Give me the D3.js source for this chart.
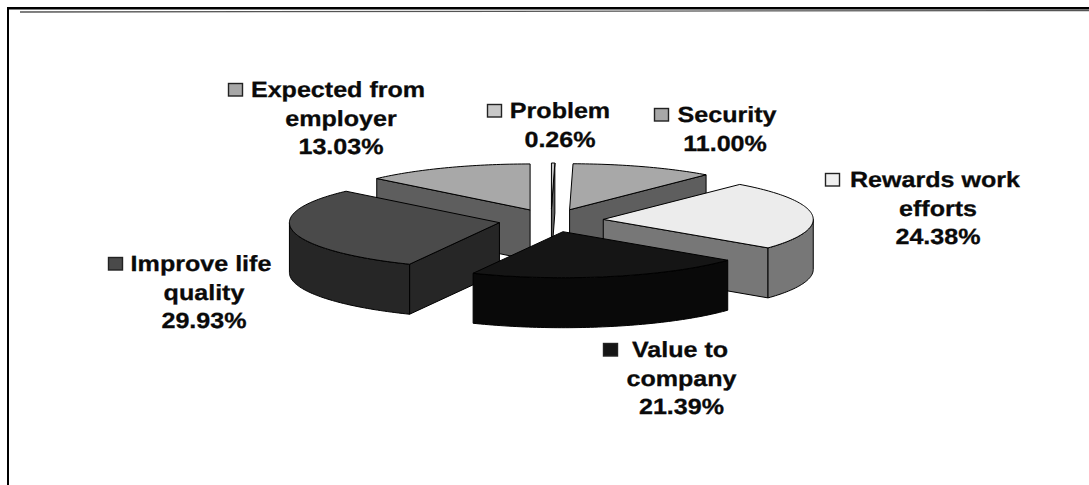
<!DOCTYPE html>
<html>
<head>
<meta charset="utf-8">
<script src="https://cdn.jsdelivr.net/npm/d3@7/dist/d3.min.js"></script>
<style>
html,body{margin:0;padding:0;background:#fff;overflow:hidden}
text{font-family:"Liberation Sans",Arial,sans-serif;font-weight:bold;fill:#0a0a0a;stroke:#0a0a0a;stroke-width:0.3px;text-rendering:geometricPrecision}
</style>
</head>
<body>
<svg id="c" width="1089" height="485"></svg>
<script>
// Data, in clockwise order from twelve o'clock
const categories = ["Problem", "Security", "Rewards work efforts", "Value to company", "Improve life quality", "Expected from employer"];
const values = [0.26, 11.00, 24.38, 21.39, 29.93, 13.03];
const labelLines = [["Problem"], ["Security"], ["Rewards work", "efforts"], ["Value to", "company"], ["Improve life", "quality"], ["Expected from", "employer"]];

// Styles
const topColors  = ["#c8c8c8", "#a8a8a8", "#ececec", "#151515", "#4a4a4a", "#a8a8a8"];
const wallColors = ["#606060", "#5e5e5e", "#777777", "#090909", "#262626", "#5e5e5e"];
const keyColors  = ["#c8c8c8", "#a8a8a8", "#f0f0f0", "#151515", "#4a4a4a", "#a8a8a8"];

// Layout: [key left, first baseline, text centre of first line, text centre of other lines]
const labelLayout = [
  [487, 118, 560, 560],
  [654, 122, 727, 725],
  [825, 187, 935, 938],
  [603, 357, 680, 681.5],
  [108, 271, 201, 204],
  [228,  97, 338, 341]
];
const cx = 551, cy = 220.5, rx = 210, ry = 46, depth = 50, explode = 0.25;
const stretch = 1.14, fontSize = 22, lineHeight = 28.5;

const svg = d3.select("#c");

// Frame
svg.append("rect").attr("x", 7).attr("y", 7).attr("width", 2).attr("height", 478).attr("fill", "#000");
svg.append("rect").attr("x", 7).attr("y", 7).attr("width", 1082).attr("height", 2.5).attr("fill", "#000");
svg.append("line").attr("x1", 20).attr("x2", 1089).attr("y1", 12).attr("y2", 10.5).attr("stroke", "#555").attr("stroke-width", 1.3);

const x = d3.scaleLinear().domain([-1, 1]).range([cx - rx, cx + rx]);
const y = d3.scaleLinear().domain([-1, 1]).range([cy - ry, cy + ry]);

const arcs = d3.pie().sort(null).startAngle(0).endAngle(2 * Math.PI)(values);
const line = d3.line().x(d => d[0]).y(d => d[1]);

function rim(d, a) {
  const m = (d.startAngle + d.endAngle) / 2;
  const ux = Math.sin(a) + explode * Math.sin(m);
  const uy = -Math.cos(a) - explode * Math.cos(m);
  return [x(ux), y(uy)];
}
function apex(d) {
  const m = (d.startAngle + d.endAngle) / 2;
  return [x(explode * Math.sin(m)), y(-explode * Math.cos(m))];
}
function sample(a0, a1) {
  const n = Math.max(2, Math.ceil((a1 - a0) / 0.02));
  return d3.range(n + 1).map(i => a0 + (a1 - a0) * i / n);
}
const down = p => [p[0], p[1] + depth];

// Painter's order: slices further back first
const order = d3.range(arcs.length).sort((a, b) => apex(arcs[a])[1] - apex(arcs[b])[1]);

const g = svg.append("g").attr("stroke", "#000").attr("stroke-width", 1).attr("stroke-linejoin", "round");
order.forEach(i => {
  const d = arcs[i];
  const c = apex(d);
  const face = pts => g.append("path").attr("d", line(pts) + "Z").attr("fill", wallColors[i]);
  if (d.startAngle > Math.PI && d.startAngle < 2 * Math.PI) {
    const p = rim(d, d.startAngle);
    face([c, p, down(p), down(c)]);
  }
  if (d.endAngle > 0 && d.endAngle < Math.PI) {
    const p = rim(d, d.endAngle);
    face([c, p, down(p), down(c)]);
  }
  const a0 = Math.max(d.startAngle, Math.PI / 2), a1 = Math.min(d.endAngle, 3 * Math.PI / 2);
  if (a1 > a0) {
    const edge = sample(a0, a1).map(a => rim(d, a));
    face(edge.concat(edge.slice().reverse().map(down)));
  }
  const top = [c].concat(sample(d.startAngle, d.endAngle).map(a => rim(d, a)));
  g.append("path").attr("d", line(top) + "Z").attr("fill", topColors[i]);
});

// Data labels with legend keys
categories.forEach((name, i) => {
  const [keyX, base, c0, c1] = labelLayout[i];
  const lines = labelLines[i].concat([d3.format(".2f")(values[i]) + "%"]);
  svg.append("rect")
    .attr("x", keyX + 0.5).attr("y", base - 13.5)
    .attr("width", 14).attr("height", 12.5)
    .attr("fill", keyColors[i]).attr("stroke", "#222").attr("stroke-width", 1.4);
  lines.forEach((t, j) => {
    svg.append("text")
      .attr("transform", `translate(${j ? c1 : c0},${base + j * lineHeight}) scale(${stretch},1)`)
      .attr("text-anchor", "middle")
      .attr("font-size", fontSize)
      .text(t);
  });
});
</script>
</body>
</html>
